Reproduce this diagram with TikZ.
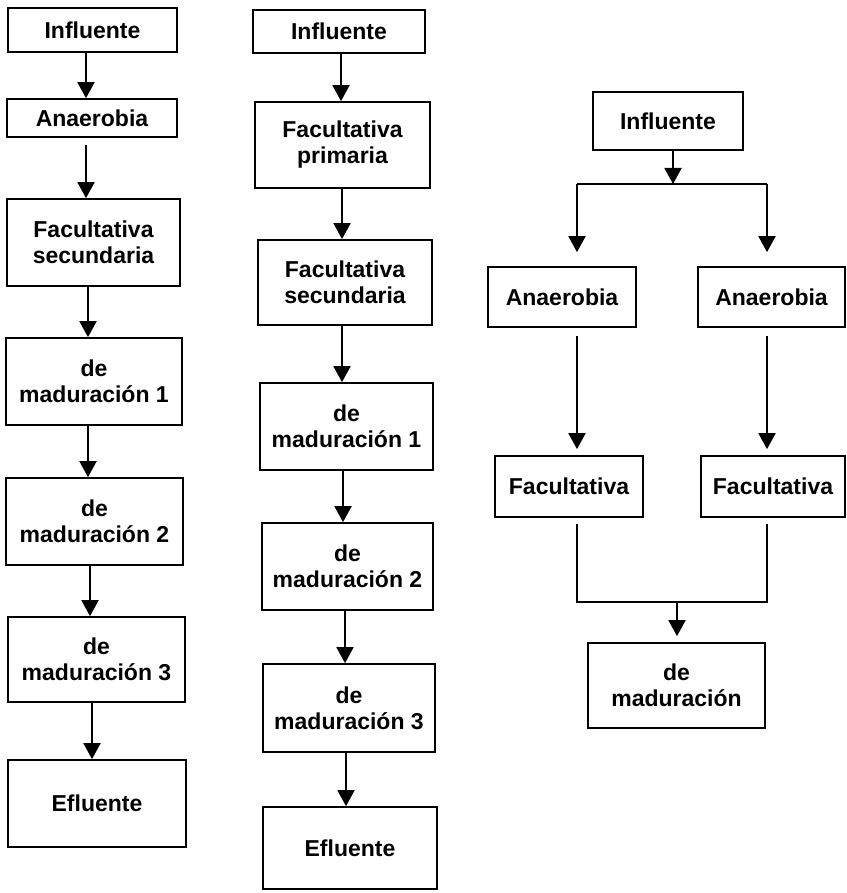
\documentclass[tikz,border=0pt]{standalone}
\usepackage{fontspec}
\setmainfont{Liberation Sans}
\usetikzlibrary{arrows.meta,calc}
\begin{document}
\begin{tikzpicture}[x=1pt,y=-1pt,
  box/.style={draw,line width=1.7pt,inner sep=0pt,align=center,
    font=\fontsize{23}{26}\selectfont\bfseries},
  arr/.style={line width=1.9pt,-{Triangle[width=17pt,length=16pt]}},
  ln/.style={line width=1.9pt}]
\useasboundingbox (0,0) rectangle (846,893);
% column 1
\node[box,minimum width=169pt,minimum height=44pt] (i1) at (92.5,30) {Influente};
\node[box,minimum width=170pt,minimum height=38pt] (a1) at (92,118) {Anaerobia};
\node[box,minimum width=173pt,minimum height=87pt] (f1) at (93.5,242.5) {Facultativa\\secundaria};
\node[box,minimum width=176pt,minimum height=87pt] (m11) at (94,381.5) {de\\maduración 1};
\node[box,minimum width=177pt,minimum height=87pt] (m12) at (94.5,521.5) {de\\maduración 2};
\node[box,minimum width=177pt,minimum height=85pt] (m13) at (96.5,659.5) {de\\maduración 3};
\node[box,minimum width=178pt,minimum height=87pt] (e1) at (97,803.5) {Efluente};
\draw[arr] (i1.south -| 86,0) -- (a1.north -| 86,0);
\draw[arr] ([yshift=-7pt]a1.south -| 86,0) -- (f1.north -| 86,0);
\draw[arr] (f1.south -| 88,0) -- (m11.north -| 88,0);
\draw[arr] (m11.south -| 88,0) -- (m12.north -| 88,0);
\draw[arr] (m12.south -| 90,0) -- (m13.north -| 90,0);
\draw[arr] (m13.south -| 92,0) -- (e1.north -| 92,0);
% column 2
\node[box,minimum width=172pt,minimum height=43pt] (i2) at (339,31.5) {Influente};
\node[box,minimum width=175pt,minimum height=86pt] (p2) at (342.5,145) {Facultativa\\primaria};
\node[box,minimum width=174pt,minimum height=85pt] (s2) at (345,282.5) {Facultativa\\secundaria};
\node[box,minimum width=173pt,minimum height=87pt] (m21) at (346.5,426.5) {de\\maduración 1};
\node[box,minimum width=171pt,minimum height=87pt] (m22) at (347.5,566.5) {de\\maduración 2};
\node[box,minimum width=172pt,minimum height=88pt] (m23) at (349,708) {de\\maduración 3};
\node[box,minimum width=174pt,minimum height=82pt] (e2) at (350,848) {Efluente};
\draw[arr] (i2.south -| 341,0) -- (p2.north -| 341,0);
\draw[arr] (p2.south -| 342,0) -- (s2.north -| 342,0);
\draw[arr] (s2.south -| 342,0) -- (m21.north -| 342,0);
\draw[arr] (m21.south -| 343,0) -- (m22.north -| 343,0);
\draw[arr] (m22.south -| 345,0) -- (m23.north -| 345,0);
\draw[arr] (m23.south -| 346,0) -- (e2.north -| 346,0);
% column 3
\node[box,minimum width=150pt,minimum height=58pt] (i3) at (668,121) {Influente};
\node[box,minimum width=148pt,minimum height=60pt] (a3l) at (562,297) {Anaerobia};
\node[box,minimum width=147pt,minimum height=60pt] (a3r) at (771.5,297) {Anaerobia};
\node[box,minimum width=148pt,minimum height=61pt] (f3l) at (569,486.5) {Facultativa};
\node[box,minimum width=144pt,minimum height=61pt] (f3r) at (773,486.5) {Facultativa};
\node[box,minimum width=177pt,minimum height=85pt] (m3) at (676.5,685.5) {de\\maduración};
\coordinate (j1) at (673,184);
\coordinate (jl) at (577,184);
\coordinate (jr) at (767,184);
\coordinate (k1) at (677,602);
\coordinate (kl) at (577,602);
\coordinate (kr) at (767,602);
\draw[arr] (i3.south -| j1) -- (j1);
\draw[ln] (jl) -- (jr);
\draw[arr] (jl) -- ([yshift=14pt]a3l.north -| jl);
\draw[arr] (jr) -- ([yshift=14pt]a3r.north -| jr);
\draw[arr] ([yshift=-8pt]a3l.south -| jl) -- ([yshift=6pt]f3l.north -| jl);
\draw[arr] ([yshift=-8pt]a3r.south -| jr) -- ([yshift=6pt]f3r.north -| jr);
\draw[ln] ([yshift=-6pt]f3l.south -| kl) -- (kl) -- (kr) -- ([yshift=-6pt]f3r.south -| kr);
\draw[arr] (k1) -- ([yshift=6pt]m3.north -| k1);
\end{tikzpicture}
\end{document}
